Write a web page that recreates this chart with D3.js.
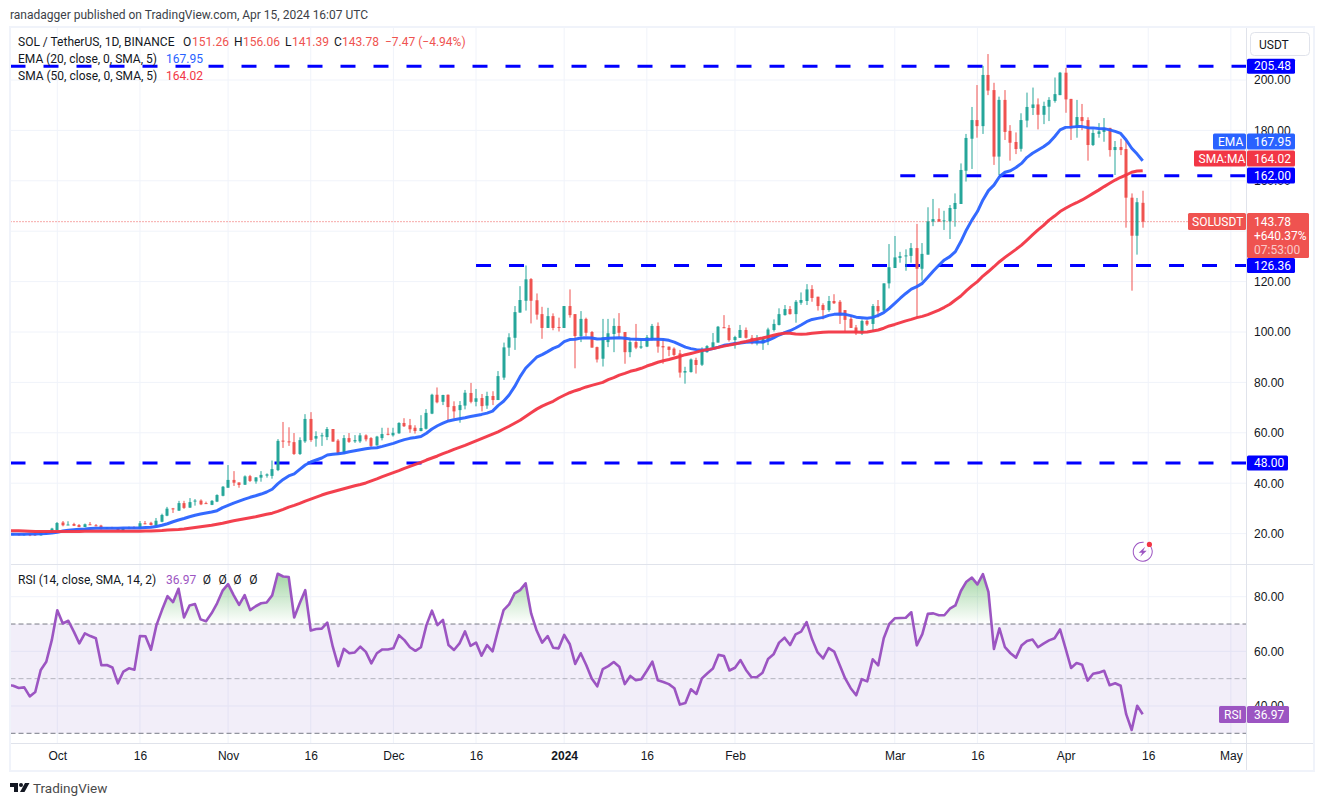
<!DOCTYPE html>
<html lang="en">
  <head>
    <meta charset="UTF-8" />
    <title>SOL / TetherUS, 1D</title>
    <script src="https://cdn.jsdelivr.net/npm/d3@7"></script>
    <style>
      body { margin: 0; background: #fff; }
      svg { display: block; font-family: Roboto, "Liberation Sans", sans-serif; }
    </style>
  </head>
  <body>
    <div id="container"></div>
    <script>
      // daily bars, first one is 2023-09-22
      const firstDay = new Date(Date.UTC(2023, 8, 22))
      const opens = [
        19.5,19.5,19.9,19.4,19.8,19.7,19.3,20,20.4,
        21.4,24.4,23.5,23.8,23.4,22.6,23.7,23.3,23.2,21.9,
        22.4,22.2,21.2,21.9,22.5,22,24.1,24.3,23.1,24.7,
        27.1,30,29.1,32.1,30.3,33,33.1,32.1,31.4,32.7,
        35,38.2,41.3,40.3,39.4,42.8,40.7,42.2,43,42.9,
        45.2,56.9,56.6,56.3,51.6,56.6,65.5,57.7,58.7,58.3,
        61.5,56.9,51.9,57.9,56.6,56.6,59,57.9,55,57.9,
        59.6,59,59.8,63.9,63,62,60.7,61.6,67.6,75.1,
        72.3,75.1,70.6,69,70.8,75.8,72.3,73.8,70.8,74.6,
        73,81.9,93.8,97.7,107.7,112.4,121,112.6,107.1,101.6,
        106.3,102,101.6,110.3,107.1,98.4,105.2,100,94,89.4,
        96,99.2,102.4,100,92,96,93.8,94.2,97.1,102.4,
        94.4,94.2,93.4,91.5,83.9,84.1,88.9,87,92,93.9,
        95.8,101.9,101.6,96.8,97.7,100.8,97.7,95.5,95.5,96.8,
        100.8,102.8,106.7,109.1,107.1,111.6,112.3,117,114,110.7,
        108.7,112.3,112,108.7,105.2,101.8,99.5,104.4,103.2,110.3,
        108.5,119.3,125.4,129.4,130.2,130.2,133.3,125.1,130.7,143.8,
        144.8,143.9,143.9,148.8,150.8,164,176.7,184.1,181.7,202,
        196,169.6,192.1,179.8,175.4,172.7,183.9,188.9,190.3,186.2,
        189.4,191.7,194,202.9,192.5,181.1,185.3,184.1,174.2,178.6,
        179.4,181,172.2,173.4,172.6,153.3,138.2,151.26
      ]
      const highs = [
        19.7,20.1,20.1,20,20,20.2,20.6,20.7,22.3,
        24.6,25,24.9,24.3,23.8,24,24.6,23.8,23.5,22.6,
        22.7,22.5,22.4,22.8,22.9,25,25,24.7,26.2,27.9,
        30.6,30.2,33,33,34.1,33.7,33.6,32.7,33.3,35.6,
        38.9,47.2,44.8,40.3,43.1,43.3,42.4,44.8,43.9,49,
        57.5,64.3,62.2,59.9,58.2,67.4,68.2,60.6,60,62.3,
        61.5,57.5,59.1,59.9,59.1,59.9,59.4,58.3,58.8,62,
        62,62,64.2,65.8,65.5,63,67,69.4,75.5,78,
        75.1,75.2,72.5,72.6,77,79.8,77.4,75.4,76.3,76.5,
        84.5,95.8,99.5,110.3,118.2,126.4,121.4,115.3,110,109.6,
        107.4,105.7,110.3,116.9,107.1,108.3,105.7,100.4,94.2,105.2,
        105.2,105.4,107.5,100,97,103.2,97,98.8,103.2,103.8,
        97.3,94.2,93.9,92.9,86.2,89.5,89.8,93.9,94.8,99.6,
        102.4,106.7,102.8,98.5,102.8,101.8,98.8,98.8,98.1,101.7,
        105,109.4,110.7,110.3,112.7,115.7,119,118.6,114,111.4,
        114.3,115,112.7,108.7,106.7,102.8,105,104.8,111.1,112.7,
        119.3,134.9,138.1,131.8,132.8,135.3,142.9,135.3,149.5,152.8,
        149.1,148.1,150.4,155,166.9,178.6,189.3,198,205.6,210.3,
        198.9,193.4,196,182.1,179.2,186.8,195,197,192.7,191.4,
        193.2,201,203.2,204.8,192.5,192.1,190.5,185.2,180.4,182.9,
        184.9,181,175.8,176.7,175.8,155,153.2,156.06
      ]
      const lows = [
        19.3,19.3,19.2,19.2,19,19.1,19.2,19.9,20.2,
        21.2,22.9,23.4,23,22.6,22.6,23.4,22.9,21.6,21.8,
        22,21.3,21.1,21.8,21.9,21.8,23.7,23.2,23,24.5,
        26.9,28.2,29,29.8,30.2,31.1,31.3,31.9,31.3,32.5,
        34.8,38.2,38.9,38.2,39.3,40.5,39.8,40.6,42.2,41.8,
        44.8,54,54.8,51.2,51.2,56,56.4,54.5,54.8,57.1,
        56.5,51.2,51.6,56,56,56,56.6,54.3,54.9,57,
        59,58.5,59.6,62.3,60,59.7,60.6,61.3,67.4,71.7,
        71,64.4,65.7,64,69.3,71.7,70.5,68.5,69.5,71,
        73,81,90.5,92.9,107.7,108.5,103.4,104.9,97.3,101.6,
        100.7,100.2,101.6,105.7,85.6,96,98.4,93.8,87.9,86.3,
        94,92,98,87.4,90,93.2,93.3,94,96.6,91.8,
        87.4,90.4,90.5,81.9,79.5,83.9,83.5,86.5,91.8,93,
        95.8,101.5,96.2,93.4,97.7,97.4,95.1,94.7,92.9,94.8,
        100.2,102.6,106.5,106.9,103.7,110.8,110.7,112,108.5,105,
        108,111.1,103.2,100.3,101.6,98.8,98.8,102.4,100.1,105.8,
        108,117.3,125.4,127.5,124.3,127.5,105.8,120.4,130.7,142,
        143.8,140.5,136.9,141.8,150.8,159.7,164.7,177.1,178.6,194,
        166.3,162.3,176.2,168,170.6,171.6,181.2,186.1,180.4,182.5,
        183.7,191,194,187,176.2,177.1,180.1,168,173.8,177.1,
        175.5,169.6,162.3,170.2,141.4,116.4,130.7,141.39
      ]
      const closes = [
        19.6,19.9,19.4,19.8,19.3,19.4,20.4,20.5,22,
        24.2,23.3,23.6,23.1,22.6,23.7,23.5,22.9,21.8,22.4,
        22.1,21.4,22.2,22.4,22,24.1,23.8,23.4,25.1,27.4,
        29.9,29.8,32.1,30.2,32.5,33.1,31.6,31.9,33,35.3,
        38.6,41.3,40.2,39.3,42.7,40.9,42.3,43.3,43.5,45.6,
        56.8,56.5,56.4,51.6,57.1,65.5,57.1,58.7,59,61.5,
        56.5,51.6,57.9,56.4,57.1,59,57.4,54.8,58.5,59.5,
        59.3,60,63.9,62.6,61.4,60.7,61.9,67.9,75.1,72.1,
        75,70.2,68.5,71,75.9,72.3,73.7,70.6,74.6,73,
        82.5,93.9,97.9,107.9,112.7,120.9,112.4,106.9,101.6,106.3,
        101.6,101.6,110.3,106.7,98.4,105.2,99.7,93.8,89.1,97.9,
        99.5,102.4,99.7,92,96,93.8,94.3,97.9,102.4,94.2,
        93.9,92.9,90.9,83.9,84.5,89.1,86.9,92.9,94.4,95.9,
        102.1,101.5,96.8,98,100.8,97.7,95.5,97.2,97.5,101,
        103.2,107.1,109.1,107.1,112,112.7,116.9,113.5,110.3,108.7,
        112.3,111.4,106.6,104.8,101.6,99.5,104.4,103,110.3,108.2,
        119.3,125.7,129.6,130.1,130.4,133.3,125.1,131,143.9,144.8,
        143.8,144.3,149.2,151.2,164.3,177,184.1,181.7,202,195.8,
        169.6,192.1,179.4,175.1,172.6,184.1,189.3,190.3,186.2,189.7,
        192.1,194.4,202.9,192.3,180.8,185.3,183.7,174.2,179,179.6,
        181,172.2,173.4,172.2,153.3,138.2,151.5,143.78
      ]
      const ema20 = [
        19.7,19.7,19.7,19.7,19.8,19.8,19.9,20,20.2,
        20.5,21,21.3,21.5,21.7,21.8,22,22.1,22.1,22.1,
        22.1,22.1,22.2,22.2,22.2,22.2,22.4,22.5,22.8,23.3,
        23.9,24.7,25.4,26,26.7,27.3,27.8,28.2,28.6,29.1,
        30.3,31.2,32.1,32.9,33.7,34.4,35,35.7,36.5,37.6,
        39.7,41.5,42.9,43.7,45.5,47.2,48.4,49.2,50,51.2,
        51.5,51.7,52,52.5,52.9,53.3,53.7,54,54.1,54.6,
        55.2,55.8,56.6,57.3,57.8,58.1,58.5,59.8,61.5,62.8,
        63.8,64.7,65.2,65.6,66,66.5,66.9,67.3,67.8,68.6,
        70.8,72.5,75,78.3,82.3,85.6,87.8,90,91,92.2,
        93.5,94.4,96.2,97,97.1,97.6,97.7,97.6,97.2,97.3,
        97.5,97.6,97.7,97.5,97.2,97.1,97,97,97.1,97.1,
        97,96.7,96,95,94,93.4,93,92.9,92.9,93.4,
        94,94.7,95,95.4,95.6,95.9,96,96,96,96.7,
        97.7,98.8,99.7,100.5,101.6,102.8,104.1,105,105.4,105.8,
        106.6,107,107.1,107,106.5,105.9,105.7,105.5,105.8,106.6,
        107.7,109.4,111.4,113.4,115.3,117,118,119.3,121.7,124.2,
        126.5,128.6,129.9,131.9,135.9,140.5,144.4,147.8,152.4,156.1,
        158.3,161.6,163.4,164,165.3,166.9,169.3,170.9,172.2,173.5,
        175.1,177.5,180.2,181.2,181.3,181.5,181.5,181.1,181,180.8,
        180.7,180.2,179.6,178.8,176.2,172.9,170.6,167.95
      ]
      const sma50 = [
        21.2,21.1,21.1,21,20.9,20.8,20.8,20.8,20.8,
        20.8,20.8,20.8,20.8,20.8,20.9,20.9,20.9,20.9,20.9,
        20.9,20.9,20.9,20.9,20.9,20.9,21,21,21.1,21.2,
        21.4,21.5,21.6,21.8,22.1,22.4,22.7,23,23.3,23.7,
        24.1,24.6,25.1,25.5,25.9,26.3,26.7,27.2,27.7,28.1,
        28.8,29.6,30.5,31.2,32,32.9,33.7,34.5,35.3,36,
        36.6,37.2,37.8,38.4,39,39.5,40.1,40.9,41.7,42.6,
        43.4,44.2,45,45.9,46.7,47.5,48.3,49.2,50,50.8,
        51.7,52.5,53.4,54.2,55,55.9,56.8,57.7,58.6,59.5,
        60.4,61.5,62.6,63.8,65,66.5,68,69.4,70.6,71.6,
        72.5,73.8,74.9,75.9,76.7,77.4,78.2,78.8,79.4,80,
        81.1,81.9,82.9,83.6,84.4,84.9,85.6,86.5,87.2,88,
        88.6,89.1,89.7,90.3,91,91.5,92,92.6,93,93.4,
        93.9,94.4,94.8,95.2,95.8,96.2,96.7,97.2,97.6,98.1,
        98.7,99.2,99.5,99.5,99.2,99.1,99.2,99.5,99.7,99.9,
        100,100,100,100,100,100,99.9,100,100.4,100.8,
        101.5,102.4,103,103.7,104.4,105,105.7,106.2,106.9,107.8,
        108.7,109.8,111,112.7,114.3,116.4,118.3,120,122.2,124,
        125.9,127.9,129.6,131.2,132.8,134.5,136.5,138.5,140.5,142.3,
        144.4,146,147.8,149.1,150.3,151.3,152.4,153.7,155,156.3,
        157.7,159,160.3,161.4,162.3,163.4,163.9,164.02
      ]
      const rsi14 = [
        47.7,47.4,46.6,46.8,43.5,45.1,53.2,56.2,64.1,
        75,70.2,71.2,67.2,62.9,66.6,65.6,64.8,54.9,55,
        54.1,48.3,52.6,53.8,53.3,65.6,65.5,60.6,69.6,75.1,
        80.2,78,82.9,72.4,76.8,77.3,71.7,71,73.9,77.6,
        82.2,84.6,80.6,77,80.6,75.1,76.5,77.6,77.9,80.5,
        88.4,87.4,87.2,72.4,77.6,82.4,67.6,68.2,68.3,70.5,
        61.7,54.6,60.9,59.3,59.6,61.7,59.8,55.6,59.3,60.7,
        60.7,61.1,65.9,64.1,61.5,60.2,61.5,69.6,74.9,69.6,
        71.5,62.3,60.5,62.9,67.3,62,63.2,58.4,62.3,60,
        67.8,75.1,77.2,81.2,82.4,84.9,73.9,67.6,63.2,65.6,
        61.3,61.1,66,62.7,55.4,59.3,55,50.1,47.2,53.5,
        54.6,56.1,54.4,48,51,49.4,49.8,52.9,56.2,49.4,
        48.8,48,46.5,40.5,41.1,46.1,44.4,50.1,52,53.7,
        58.7,58.3,53,54,56.8,53.2,50.5,50.6,52.2,57.2,
        58.9,63.2,65,62.3,66.2,67.2,70.7,64.4,59.6,57.4,
        61.2,59.9,55,50.1,46.5,43.9,49.8,49,57.1,54.9,
        64.8,70,72.1,72.2,72.3,74.3,62.2,66.3,73.7,73.9,
        73.2,73.2,75.6,76.8,82.1,85.5,87,84.5,88.3,81.8,
        60.9,68.4,61.5,59.3,57.7,62.1,63.8,64.3,61.5,62.8,
        64,64.8,68,61.1,53.9,55.7,55.1,49.3,51.8,52.2,
        52.9,47.6,48.3,47.4,37,31.2,40.1,36.97
      ]

      // axis ticks
      const priceTicks = [20, 40, 60, 80, 100, 120, 140, 160, 180, 200]
      const rsiTicks = [40, 60, 80]
      const timeTicks = ['2023-10-01','2023-10-16','2023-11-01','2023-11-16','2023-12-01','2023-12-16','2024-01-01','2024-01-16','2024-02-01','2024-03-01','2024-03-16','2024-04-01','2024-04-16','2024-05-01']
      const timeLabels = ['Oct','16','Nov','16','Dec','16','2024','16','Feb','Mar','16','Apr','16','May']

      // horizontal levels drawn by the author
      const levelValues = [205.48, 162, 126.36, 48]
      const levelStarts = ['2023-09-22', '2024-03-02', '2023-12-16', '2023-09-22']

      const width = 1324
      const height = 806
      const paneLeft = 10.5
      const paneRight = 1246.5
      const mainTop = 28
      const mainBottom = 564.5
      const rsiBottom = 743.5
      const gridColor = '#f0f3fa'
      const lineColor = '#e0e3eb'
      const textColor = '#131722'
      const up = '#26a69a'
      const down = '#ef5350'
      const emaColor = '#2962ff'
      const smaColor = '#f23645'
      const rsiColor = '#9c55c2'
      const levelColor = '#0000ff'

      const dates = closes.map((_, i) => d3.utcDay.offset(firstDay, i))
      const parseDay = d3.utcParse('%Y-%m-%d')

      const x = d3.scaleUtc()
        .domain([parseDay('2023-10-01'), parseDay('2024-04-15')])
        .range([57.3, 1142.7])
      const yPrice = d3.scaleLinear().domain([20, 200]).range([533.6, 80])
      const yRsi = d3.scaleLinear().domain([30, 80]).range([733.3, 596.7])

      const svg = d3.select('#container').append('svg')
        .attr('width', width)
        .attr('height', height)
        .attr('viewBox', [0, 0, width, height])

      const defs = svg.append('defs')
      defs.append('clipPath').attr('id', 'clip-main').append('rect')
        .attr('x', paneLeft).attr('y', mainTop)
        .attr('width', paneRight - paneLeft).attr('height', mainBottom - mainTop)
      defs.append('clipPath').attr('id', 'clip-rsi').append('rect')
        .attr('x', paneLeft).attr('y', mainBottom)
        .attr('width', paneRight - paneLeft).attr('height', rsiBottom - mainBottom)
      defs.append('clipPath').attr('id', 'clip-over').append('rect')
        .attr('x', paneLeft).attr('y', mainBottom)
        .attr('width', paneRight - paneLeft).attr('height', yRsi(70) - mainBottom)
      const grad = defs.append('linearGradient').attr('id', 'over-fill')
        .attr('gradientUnits', 'userSpaceOnUse')
        .attr('x1', 0).attr('x2', 0).attr('y1', yRsi(88)).attr('y2', yRsi(70))
      grad.append('stop').attr('offset', 0).attr('stop-color', '#4caf50').attr('stop-opacity', 0.5)
      grad.append('stop').attr('offset', 1).attr('stop-color', '#4caf50').attr('stop-opacity', 0)

      // vertical grid through both panes
      svg.append('g').selectAll('line').data(timeTicks).join('line')
        .attr('x1', d => x(parseDay(d))).attr('x2', d => x(parseDay(d)))
        .attr('y1', mainTop).attr('y2', rsiBottom)
        .attr('stroke', gridColor)

      // horizontal grid
      svg.append('g').selectAll('line').data(priceTicks).join('line')
        .attr('x1', paneLeft).attr('x2', paneRight)
        .attr('y1', d => yPrice(d)).attr('y2', d => yPrice(d))
        .attr('stroke', gridColor)
      svg.append('g').selectAll('line').data(rsiTicks).join('line')
        .attr('x1', paneLeft).attr('x2', paneRight)
        .attr('y1', d => yRsi(d)).attr('y2', d => yRsi(d))
        .attr('stroke', gridColor)

      // price pane
      const main = svg.append('g').attr('clip-path', 'url(#clip-main)')

      main.append('g').selectAll('line').data(levelValues).join('line')
        .attr('x1', (d, i) => i === 0 || i === 3 ? paneLeft : x(parseDay(levelStarts[i])))
        .attr('x2', paneRight)
        .attr('y1', d => yPrice(d)).attr('y2', d => yPrice(d))
        .attr('stroke', levelColor)
        .attr('stroke-width', 3)
        .attr('stroke-dasharray', '15 18')

      main.append('line')
        .attr('x1', paneLeft).attr('x2', paneRight)
        .attr('y1', yPrice(closes[closes.length - 1])).attr('y2', yPrice(closes[closes.length - 1]))
        .attr('stroke', down)
        .attr('stroke-dasharray', '1 2')

      const candles = main.append('g').selectAll('g').data(dates).join('g')
        .attr('fill', (d, i) => closes[i] >= opens[i] ? up : down)
      candles.append('rect')
        .attr('x', d => Math.round(x(d)) - 0.5)
        .attr('width', 1)
        .attr('y', (d, i) => yPrice(highs[i]))
        .attr('height', (d, i) => yPrice(lows[i]) - yPrice(highs[i]))
      candles.append('rect')
        .attr('x', d => Math.round(x(d)) - 1.5)
        .attr('width', 3)
        .attr('y', (d, i) => yPrice(Math.max(opens[i], closes[i])))
        .attr('height', (d, i) => Math.max(1, Math.abs(yPrice(opens[i]) - yPrice(closes[i]))))

      const priceLine = values => d3.line()
        .x((d, i) => x(dates[i]))
        .y(d => yPrice(d))(values)
      main.append('path').attr('d', priceLine(ema20))
        .attr('fill', 'none').attr('stroke', emaColor).attr('stroke-width', 3)
        .attr('stroke-linejoin', 'round').attr('stroke-opacity', 0.95)
      main.append('path').attr('d', priceLine(sma50))
        .attr('fill', 'none').attr('stroke', smaColor).attr('stroke-width', 3)
        .attr('stroke-linejoin', 'round').attr('stroke-opacity', 0.95)

      // rsi pane
      const rsiPane = svg.append('g').attr('clip-path', 'url(#clip-rsi)')
      rsiPane.append('rect')
        .attr('x', paneLeft).attr('width', paneRight - paneLeft)
        .attr('y', yRsi(70)).attr('height', yRsi(30) - yRsi(70))
        .attr('fill', '#7e57c2').attr('fill-opacity', 0.1)
      rsiPane.append('path')
        .attr('clip-path', 'url(#clip-over)')
        .attr('d', d3.area().x((d, i) => x(dates[i])).y0(yRsi(70)).y1(d => yRsi(d))(rsi14))
        .attr('fill', 'url(#over-fill)')
      rsiPane.append('g').selectAll('line').data([70, 50, 30]).join('line')
        .attr('x1', paneLeft).attr('x2', paneRight)
        .attr('y1', d => yRsi(d)).attr('y2', d => yRsi(d))
        .attr('stroke', '#787b86')
        .attr('stroke-opacity', d => d === 50 ? 0.5 : 1)
        .attr('stroke-dasharray', '5 3')
      rsiPane.append('path')
        .attr('d', d3.line().x((d, i) => x(dates[i])).y(d => yRsi(d))(rsi14))
        .attr('fill', 'none').attr('stroke', rsiColor).attr('stroke-width', 2.6)
        .attr('stroke-linejoin', 'round')

      // frame
      svg.append('rect').attr('x', 10).attr('y', 27).attr('width', 1304).attr('height', 744)
        .attr('fill', 'none').attr('stroke', gridColor).attr('stroke-width', 2)
      const frame = svg.append('g').attr('stroke', lineColor)
      frame.append('line').attr('x1', paneRight).attr('x2', paneRight).attr('y1', mainTop).attr('y2', 770)
      frame.append('line').attr('x1', 11).attr('x2', 1313).attr('y1', mainBottom).attr('y2', mainBottom)
      frame.append('line').attr('x1', 11).attr('x2', 1313).attr('y1', rsiBottom).attr('y2', rsiBottom)

      // axes
      const styleAxis = g => {
        g.select('.domain').remove()
        g.selectAll('text').attr('fill', textColor).style('font-size', '12px')
      }
      svg.append('g').attr('transform', `translate(${paneRight}, 0)`)
        .call(d3.axisRight(yPrice).tickValues(priceTicks).tickSize(0).tickPadding(7.5).tickFormat(d3.format('.2f')))
        .call(styleAxis)
      svg.append('g').attr('transform', `translate(${paneRight}, 0)`)
        .call(d3.axisRight(yRsi).tickValues(rsiTicks).tickSize(0).tickPadding(7.5).tickFormat(d3.format('.2f')))
        .call(styleAxis)
      svg.append('g').attr('transform', `translate(0, 748)`)
        .call(d3.axisBottom(x).tickValues(timeTicks.map(parseDay)).tickSize(0).tickPadding(3).tickFormat((d, i) => timeLabels[i]))
        .call(styleAxis)
        .call(g => g.selectAll('text').attr('font-weight', (d, i) => timeLabels[i] === '2024' ? 700 : 400))

      // price tags on the right
      const addBox = (bx, by, w, h, color, label, tx) => {
        svg.append('rect').attr('x', bx).attr('y', by).attr('width', w).attr('height', h)
          .attr('rx', 1.5).attr('fill', color)
        if (label) {
          svg.append('text').attr('x', tx).attr('y', by + h / 2).attr('dy', '0.35em')
            .attr('fill', '#fff').style('font-size', '12px').text(label)
        }
      }
      addBox(1247, yPrice(205.48) - 7.5, 48, 15, levelColor, '205.48', 1254)
      addBox(1247, 167.5, 48, 16, levelColor, '162.00', 1254)
      addBox(1247, yPrice(126.36) - 7.5, 48, 15, levelColor, '126.36', 1254)
      addBox(1247, yPrice(48) - 7.5, 41, 15, levelColor, '48.00', 1254)
      addBox(1213, 133.5, 33, 16, emaColor, 'EMA', 1218)
      addBox(1247, 133.5, 48, 16, emaColor, '167.95', 1254)
      addBox(1194, 150.5, 52, 16, smaColor, 'SMA:MA', 1198.5)
      addBox(1247, 150.5, 48, 16, smaColor, '164.02', 1254)
      addBox(1188, 213, 58, 17, down, 'SOLUSDT', 1192)
      addBox(1247, 213, 62, 45, down)
      svg.append('g').selectAll('text').data(['143.78', '+640.37%', '07:53:00']).join('text')
        .attr('x', 1254).attr('y', (d, i) => 221.7 + i * 14).attr('dy', '0.35em')
        .attr('fill', '#fff').attr('fill-opacity', (d, i) => i === 2 ? 0.7 : 1)
        .style('font-size', '12px').text(d => d)
      addBox(1219, 706, 27, 17, rsiColor, 'RSI', 1224)
      addBox(1247, 706, 42, 17, rsiColor, '36.97', 1254)

      // USDT button
      svg.append('rect').attr('x', 1250.5).attr('y', 32.5).attr('width', 59).attr('height', 23)
        .attr('rx', 4).attr('fill', '#fff').attr('stroke', lineColor)
      svg.append('text').attr('x', 1259).attr('y', 44.5).attr('dy', '0.35em')
        .attr('fill', textColor).style('font-size', '12px').text('USDT')

      // header and legends
      const addText = (tx, ty, str, color, size) => svg.append('text')
        .attr('x', tx).attr('y', ty).attr('dy', '0.35em')
        .attr('fill', color).style('font-size', (size || 12) + 'px').text(str)

      addText(10, 15, 'ranadagger published on TradingView.com, Apr 15, 2024 16:07 UTC', '#3c3f48')
      addText(18, 41.5, 'SOL / TetherUS, 1D, BINANCE', textColor)
      addText(183, 41.5, 'O', textColor)
      addText(192, 41.5, '151.26', down)
      addText(234, 41.5, 'H', textColor)
      addText(243, 41.5, '156.06', down)
      addText(285, 41.5, 'L', textColor)
      addText(292, 41.5, '141.39', down)
      addText(334, 41.5, 'C', textColor)
      addText(342, 41.5, '143.78', down)
      addText(385, 41.5, '−7.47 (−4.94%)', down)
      addText(18, 58.5, 'EMA (20, close, 0, SMA, 5)', textColor)
      addText(166, 58.5, '167.95', emaColor)
      addText(18, 76, 'SMA (50, close, 0, SMA, 5)', textColor)
      addText(166, 76, '164.02', smaColor)
      addText(18, 580, 'RSI (14, close, SMA, 14, 2)', textColor)
      addText(166, 580, '36.97', rsiColor)
      const nulls = [207, 222.7, 237.3, 253.3]
      nulls.forEach(nx => addText(nx, 580, 'Ø', textColor).attr('text-anchor', 'middle'))

      // lightning badge
      const badge = svg.append('g').attr('transform', 'translate(1142.7, 551.7)')
      badge.append('path')
        .attr('d', d3.arc().innerRadius(9).outerRadius(10).startAngle(0.75).endAngle(Math.PI * 2 + 0.1)())
        .attr('fill', rsiColor)
      badge.append('path').attr('d', 'M2.5 -5 L-4 1 L-0.5 1 L-2.5 5 L4 -1 L0.5 -1 Z').attr('fill', rsiColor)
      badge.append('circle').attr('cx', 6.7).attr('cy', -7.3).attr('r', 2.6).attr('fill', smaColor)

      // TradingView mark
      const logo = svg.append('g').attr('transform', 'translate(10, 783)').attr('fill', '#131722')
      logo.append('path').attr('d', 'M0 0 H8 V9 H4 V4 H0 Z')
      logo.append('circle').attr('cx', 11).attr('cy', 2).attr('r', 2)
      logo.append('path').attr('d', 'M15 0 H19.5 L14.5 9 H10 Z')
      addText(33, 788.5, 'TradingView', '#4a4a4a', 13.5)
    </script>
  </body>
</html>
